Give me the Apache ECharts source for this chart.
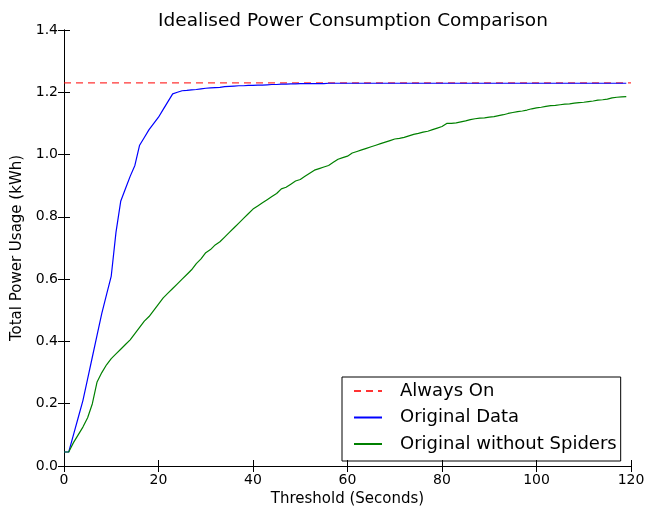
<!DOCTYPE html>
<html>
<head>
<meta charset="utf-8">
<script src="https://cdn.jsdelivr.net/npm/echarts@6/dist/echarts.min.js"></script>
<style>
  html, body { margin: 0; padding: 0; background: #fff; }
  #chart { width: 659px; height: 512px; }
</style>
</head>
<body>
<div id="chart"></div>
<script>
  // threshold in seconds, 0..119
  var thresholds = [];
  for (var i = 0; i < 120; i++) { thresholds.push(i); }

  var alwaysOnX = [0, 120];
  var alwaysOnY = [1.23, 1.23];

  var originalData = [
    0.045, 0.045, 0.10, 0.155, 0.21, 0.28, 0.35, 0.42, 0.49, 0.55,
    0.61, 0.75, 0.85, 0.89, 0.93, 0.965, 1.03, 1.055, 1.08, 1.10,
    1.12, 1.145, 1.17, 1.195, 1.20, 1.205, 1.206, 1.208, 1.209, 1.211,
    1.213, 1.214, 1.215, 1.216, 1.218, 1.219, 1.220, 1.221, 1.221, 1.222,
    1.222, 1.223, 1.223, 1.224, 1.225, 1.225, 1.226, 1.226, 1.227, 1.227,
    1.228, 1.228, 1.228, 1.228, 1.228, 1.228, 1.229, 1.229, 1.229, 1.229,
    1.229, 1.229, 1.229, 1.229, 1.229, 1.229, 1.229, 1.229, 1.229, 1.229,
    1.229, 1.229, 1.229, 1.229, 1.229, 1.229, 1.229, 1.229, 1.229, 1.229,
    1.229, 1.229, 1.229, 1.229, 1.229, 1.229, 1.229, 1.229, 1.229, 1.229,
    1.229, 1.229, 1.229, 1.229, 1.229, 1.229, 1.229, 1.229, 1.229, 1.229,
    1.229, 1.229, 1.229, 1.229, 1.229, 1.229, 1.229, 1.229, 1.229, 1.229,
    1.229, 1.229, 1.229, 1.229, 1.229, 1.229, 1.229, 1.229, 1.229, 1.229
  ];

  var withoutSpiders = [
    0.045, 0.045, 0.075, 0.10, 0.125, 0.155, 0.20, 0.27, 0.30, 0.325,
    0.345, 0.36, 0.375, 0.39, 0.405, 0.425, 0.445, 0.465, 0.48, 0.50,
    0.52, 0.54, 0.555, 0.57, 0.585, 0.60, 0.615, 0.63, 0.65, 0.665,
    0.685, 0.695, 0.71, 0.72, 0.735, 0.75, 0.765, 0.78, 0.795, 0.81,
    0.825, 0.835, 0.845, 0.855, 0.865, 0.875, 0.89, 0.895, 0.905, 0.915,
    0.92, 0.93, 0.94, 0.95, 0.955, 0.96, 0.965, 0.975, 0.985, 0.99,
    0.995, 1.005, 1.01, 1.015, 1.02, 1.025, 1.03, 1.035, 1.04, 1.045,
    1.05, 1.052, 1.055, 1.06, 1.065, 1.068, 1.072, 1.075, 1.08, 1.085,
    1.09, 1.10, 1.10, 1.102, 1.105, 1.108, 1.112, 1.115, 1.117, 1.118,
    1.12, 1.122, 1.125, 1.128, 1.132, 1.135, 1.138, 1.14, 1.143, 1.147,
    1.15, 1.152, 1.155, 1.157, 1.158, 1.16, 1.162, 1.163, 1.165, 1.167,
    1.168, 1.17, 1.172, 1.175, 1.176, 1.178, 1.182, 1.184, 1.185, 1.186
  ];

  var seriesNames = ['Always On', 'Original Data', 'Original without Spiders'];

  function pairs(xs, ys) {
    var out = [];
    for (var i = 0; i < ys.length; i++) { out.push([xs[i], ys[i]]); }
    return out;
  }

  var font = 'DejaVu Sans';
  var chart = echarts.init(document.getElementById('chart'));

  var baseAxis = {
    type: 'value',
    axisLine: { show: true, lineStyle: { color: '#000', width: 1 } },
    axisTick: { show: true, inside: true, length: 6, lineStyle: { color: '#000' } },
    splitLine: { show: false }
  };

  var option = {
    animation: false,
    backgroundColor: '#fff',
    title: {
      text: 'Idealised Power Consumption Comparison',
      left: 348,
      textAlign: 'center',
      top: 7,
      textStyle: { fontFamily: font, fontSize: 18.5, fontWeight: 'normal', color: '#000' }
    },
    grid: { left: 64, right: 28, top: 30, bottom: 43 },
    legend: {
      orient: 'vertical',
      left: 342,
      top: 377,
      data: seriesNames,
      itemWidth: 28,
      itemHeight: 18,
      itemGap: 8.5,
      padding: [5, 4, 8, 11],
      borderColor: '#000',
      borderWidth: 1,
      borderRadius: 0,
      itemStyle: { opacity: 0 },
      textStyle: { fontFamily: font, fontSize: 18, color: '#000', padding: [0, 0, 0, 13] }
    },
    xAxis: [
      Object.assign({}, baseAxis, {
        min: 0, max: 120, interval: 20,
        name: 'Threshold (Seconds)',
        nameLocation: 'middle',
        nameGap: 26,
        nameTextStyle: { fontFamily: font, fontSize: 15, color: '#000' },
        axisLabel: { fontFamily: font, fontSize: 14, color: '#000', margin: 7 }
      }),
      Object.assign({}, baseAxis, {
        position: 'top',
        min: 0, max: 120, interval: 20,
        axisLabel: { show: false }
      })
    ],
    yAxis: [
      Object.assign({}, baseAxis, {
        min: 0, max: 1.4, interval: 0.2,
        name: 'Total Power Usage (kWh)',
        nameLocation: 'middle',
        nameGap: 37,
        nameTextStyle: { fontFamily: font, fontSize: 15, color: '#000' },
        axisLabel: {
          fontFamily: font, fontSize: 14, color: '#000', margin: 6,
          formatter: function (v) { return v.toFixed(1); }
        }
      }),
      Object.assign({}, baseAxis, {
        position: 'right',
        min: 0, max: 1.4, interval: 0.2,
        axisLabel: { show: false }
      })
    ],
    series: [
      {
        name: seriesNames[0],
        type: 'line',
        data: pairs(alwaysOnX, alwaysOnY),
        symbol: 'none',
        lineStyle: { color: '#ff0000', width: 1.2, type: [7, 5], opacity: 0.8 },
        itemStyle: { color: '#ff0000' }
      },
      {
        name: seriesNames[1],
        type: 'line',
        data: pairs(thresholds, originalData),
        symbol: 'none',
        lineStyle: { color: '#0000ff', width: 1.2 },
        itemStyle: { color: '#0000ff' }
      },
      {
        name: seriesNames[2],
        type: 'line',
        data: pairs(thresholds, withoutSpiders),
        symbol: 'none',
        lineStyle: { color: '#008000', width: 1.2 },
        itemStyle: { color: '#008000' }
      }
    ]
  };

  chart.setOption(option);
</script>
</body>
</html>
